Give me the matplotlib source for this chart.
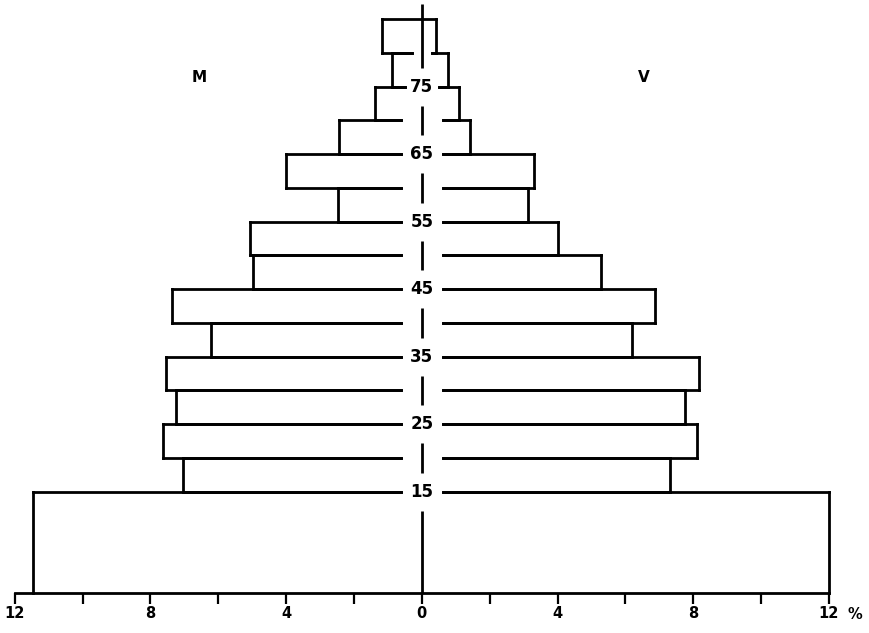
import numpy as np
import matplotlib
matplotlib.use("Agg")
import matplotlib.pyplot as plt

# age groups (years) and share of population (%)
age_lo = [0, 15, 20, 25, 30, 35, 40, 45, 50, 55, 60, 65, 70, 75, 80]
age_hi = [15, 20, 25, 30, 35, 40, 45, 50, 55, 60, 65, 70, 75, 80, 85]
men = [11.45, 7.04, 7.63, 7.24, 7.53, 6.20, 7.36, 4.98, 5.05, 2.48, 4.00, 2.44, 1.38, 0.88, 1.16]    # M
women = [12.0, 7.32, 8.11, 7.76, 8.16, 6.18, 6.86, 5.29, 4.02, 3.14, 3.30, 1.41, 1.09, 0.76, 0.42]   # V

label_ages = [15, 25, 35, 45, 55, 65, 75]
x_ticks = [-12, -8, -4, 0, 4, 8, 12]
x_ticklabels = ["12", "8", "4", "0", "4", "8", "12"]

LW = 2.0
COL = "black"

fig = plt.figure(figsize=(8.69, 6.33), dpi=100)
ax = fig.add_axes([0, 0, 1, 1])
ax.set_xlim(-12.433, 13.18)
ax.set_ylim(-5.93, 87.85)

# gap left open round the centre line at each boundary
gaps = {75: 0.5, 80: 0.3, 85: 0.0}

def hline(y, left, right):
    g = gaps.get(y, 0.62)
    ax.plot([-left, -g], [y, y], color=COL, lw=LW, solid_capstyle="projecting")
    ax.plot([g, right], [y, y], color=COL, lw=LW, solid_capstyle="projecting")

for lo, hi, m, v in zip(age_lo, age_hi, men, women):
    ax.plot([-m, -m], [lo, hi], color=COL, lw=LW, solid_capstyle="projecting")
    ax.plot([v, v], [lo, hi], color=COL, lw=LW, solid_capstyle="projecting")
    if lo > 0:
        hline(lo, m, v)
    hline(hi, m, v)

# centre line, broken at the age labels
stops = [0] + label_ages + [87.2]
for a, b in zip(stops[:-1], stops[1:]):
    a0 = a + 2.8 if a in label_ages else a
    b0 = b - 2.8 if b in label_ages else b
    ax.plot([0, 0], [a0, b0], color=COL, lw=LW, solid_capstyle="butt")

for a in label_ages:
    ax.text(0, a, str(a), ha="center", va="center", fontsize=12,
            fontweight="bold", color=COL)

ax.text(-6.57, 76.3, "M", ha="center", va="center", fontsize=11, fontweight="bold")
ax.text(6.55, 76.3, "V", ha="center", va="center", fontsize=11, fontweight="bold")

# x axis along age 0
for s in ["top", "right", "left"]:
    ax.spines[s].set_visible(False)
ax.spines["bottom"].set_position(("data", 0))
ax.spines["bottom"].set_bounds(-12, 12)
ax.spines["bottom"].set_linewidth(LW)
ax.set_yticks([])
ax.set_xticks(x_ticks)
ax.set_xticklabels(x_ticklabels, fontsize=10.5, fontweight="bold")
ax.set_xticks(np.arange(-10, 12, 4), minor=True)
ax.tick_params(axis="x", which="both", direction="out", length=8, width=1.6,
               pad=1.5, color=COL)
# % sign next to the last tick label
ax.text(12.55, -2.05, "%", ha="left", va="top", fontsize=10.5, fontweight="bold")

fig.savefig("out.png", dpi=100)
